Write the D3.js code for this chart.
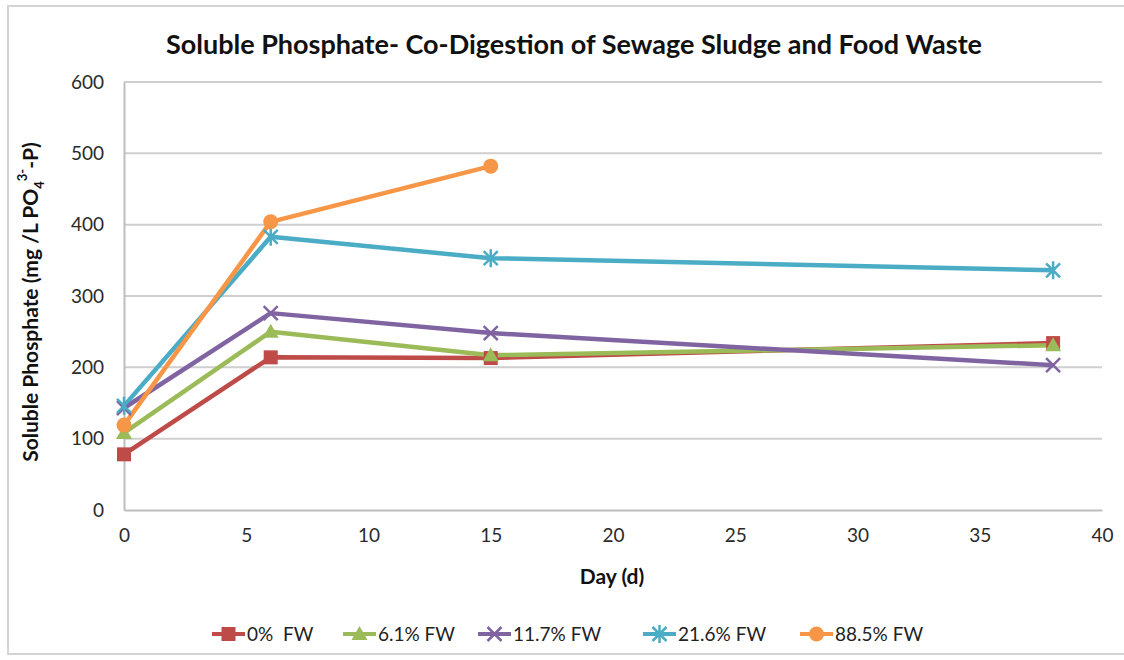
<!DOCTYPE html>
<html>
<head>
<meta charset="utf-8">
<script src="https://cdn.jsdelivr.net/npm/d3@7"></script>
<style>
  body { margin: 0; background: #fff; }
  text { font-family: Lato, "Open Sans", sans-serif; }
</style>
</head>
<body>
<div id="chart"></div>
<script>
// Data
const days = [0, 6, 15, 38];
const seriesNames = ['0%  FW', '6.1% FW', '11.7% FW', '21.6% FW', '88.5% FW'];
const fw0 = [78, 214, 213, 234];
const fw61 = [108, 250, 217, 231];
const fw117 = [143, 276, 248, 203];
const fw216 = [146, 383, 353, 336];
const fw885 = [119, 404, 482];
const xTicks = [0, 5, 10, 15, 20, 25, 30, 35, 40];
const yTicks = [0, 100, 200, 300, 400, 500, 600];

const colors = ['#BE4B48', '#9BBB59', '#8064A2', '#4BACC6', '#F79646'];
const markers = ['square', 'triangle', 'x', 'star', 'circle'];
const values = [fw0, fw61, fw117, fw216, fw885];

const series = seriesNames.map((name, i) => ({
    name: name,
    color: colors[i],
    marker: markers[i],
    points: values[i].map((v, j) => ({ day: days[j], value: v }))
}));

const width = 1124, height = 660;
const svg = d3.select('#chart').append('svg')
    .attr('width', width)
    .attr('height', height);

// outer frame
svg.append('rect')
    .attr('x', 8).attr('y', 6)
    .attr('width', 1140).attr('height', 648)
    .attr('fill', 'none')
    .attr('stroke', '#d4d4d4')
    .attr('stroke-width', 2);

const x = d3.scaleLinear().domain([0, 40]).range([124, 1102]);
const y = d3.scaleLinear().domain([0, 600]).range([510, 82]);

// gridlines
svg.append('g')
    .selectAll('line')
    .data(yTicks.filter(d => d > 0))
    .enter()
    .append('line')
    .attr('x1', x(0)).attr('x2', x(40))
    .attr('y1', d => y(d)).attr('y2', d => y(d))
    .attr('stroke', '#cfcfcf')
    .attr('stroke-width', 2);

// axes
const yAxis = svg.append('g')
    .attr('transform', `translate(${x(0)},0)`)
    .call(d3.axisLeft(y).tickValues(yTicks).tickSize(0).tickPadding(20));
const xAxis = svg.append('g')
    .attr('transform', `translate(0,${y(0)})`)
    .call(d3.axisBottom(x).tickValues(xTicks).tickSize(0).tickPadding(19));

[yAxis, xAxis].forEach(a => {
    a.select('.domain').attr('stroke', '#bdbdbd').attr('stroke-width', 2);
    a.selectAll('text')
        .style('font-family', 'Lato, sans-serif')
        .style('font-size', '19px')
        .attr('fill', '#2a2a2a');
});

// lines
const line = d3.line()
    .x(d => x(d.day))
    .y(d => y(d.value));

svg.append('g')
    .selectAll('path')
    .data(series)
    .enter()
    .append('path')
    .attr('d', d => line(d.points))
    .attr('fill', 'none')
    .attr('stroke', d => d.color)
    .attr('stroke-width', 4.5)
    .attr('stroke-linejoin', 'round');

function drawMarker(g, type, color) {
    if (type === 'square') {
        g.append('rect').attr('x', -7).attr('y', -7).attr('width', 14).attr('height', 14)
            .attr('fill', color);
    } else if (type === 'triangle') {
        g.append('path').attr('d', 'M0,-8L8,6L-8,6Z').attr('fill', color);
    } else if (type === 'circle') {
        g.append('circle').attr('r', 7.5).attr('fill', color);
    } else if (type === 'x') {
        g.append('path').attr('d', 'M-7,-7L7,7M-7,7L7,-7')
            .attr('stroke', color).attr('stroke-width', 2.5);
    } else if (type === 'star') {
        g.append('path').attr('d', 'M-7,-7L7,7M-7,7L7,-7M0,-9L0,9')
            .attr('stroke', color).attr('stroke-width', 2.5);
    }
}

// markers
series.forEach(s => {
    svg.append('g')
        .selectAll('g')
        .data(s.points)
        .enter()
        .append('g')
        .attr('transform', d => `translate(${x(d.day)},${y(d.value)})`)
        .each(function() { drawMarker(d3.select(this), s.marker, s.color); });
});

// title
svg.append('text')
    .attr('x', 574).attr('y', 54)
    .attr('text-anchor', 'middle')
    .style('font-size', '27px')
    .style('font-weight', 'bold')
    .attr('fill', '#111')
    .text('Soluble Phosphate- Co-Digestion of Sewage Sludge and Food Waste');

// x label
svg.append('text')
    .attr('x', 612).attr('y', 584)
    .attr('text-anchor', 'middle')
    .style('font-size', '21px')
    .style('font-weight', 'bold')
    .attr('fill', '#111')
    .text('Day (d)');

// y label
const yLabel = svg.append('text')
    .attr('transform', 'translate(38,302) rotate(-90)')
    .attr('text-anchor', 'middle')
    .style('font-size', '21px')
    .style('font-weight', 'bold')
    .attr('fill', '#111');
yLabel.append('tspan').text('Soluble Phosphate (mg /L PO');
yLabel.append('tspan').attr('dy', 6).style('font-size', '13px').text('4');
yLabel.append('tspan').attr('dy', -17).style('font-size', '13px').text('3-');
yLabel.append('tspan').attr('dy', 11).text('-P)');

// legend
const legendX = [212, 343, 478, 643, 800];
const legend = svg.append('g')
    .selectAll('g')
    .data(series)
    .enter()
    .append('g')
    .attr('transform', (d, i) => `translate(${legendX[i]},634)`);

legend.append('line')
    .attr('x1', 0).attr('x2', 33)
    .attr('stroke', d => d.color)
    .attr('stroke-width', 4);
legend.append('g')
    .attr('transform', 'translate(16.5,0)')
    .each(function(d) { drawMarker(d3.select(this), d.marker, d.color); });
legend.append('text')
    .attr('x', 35).attr('y', 7)
    .style('font-size', '19px')
    .style('white-space', 'pre')
    .attr('fill', '#222')
    .text(d => d.name);
</script>
</body>
</html>
